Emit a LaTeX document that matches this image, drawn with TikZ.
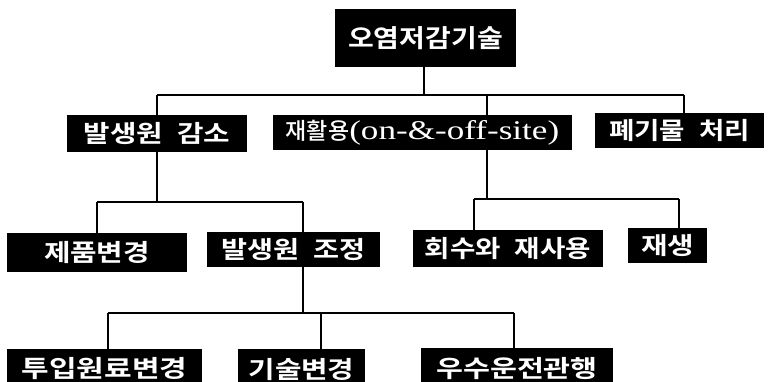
\documentclass[tikz,border=0pt]{standalone}
\usepackage{fontspec}
\usepackage{graphicx}
\newfontfamily\kofont{Noto Sans CJK KR Bold}
\newfontfamily\komedfont{Noto Sans CJK KR Medium}
\newfontfamily\latfont[FakeStretch=1.3]{Liberation Serif}
\newcommand{\wide}[2][1.2]{\scalebox{#1}[1]{#2}}
\newcommand{\gap}{\hspace{0.5em}}
\tikzset{
  box/.style={fill=black, text=white, inner sep=0pt, font=\kofont\fontsize{24}{24}\selectfont},
  conn/.style={line width=1.2pt, black}
}
\begin{document}
\begin{tikzpicture}[x=1pt,y=-1pt]
\useasboundingbox (0,0) rectangle (769,382);
\clip (0,0) rectangle (769,382);
% top
\node[box, minimum width=181pt, minimum height=58pt, font=\kofont\fontsize{25}{25}\selectfont] (top) at (425.5,38) {\wide[1.12]{오염저감기술}};
% level 1
\node[box, minimum width=180pt, minimum height=37pt] (a) at (157,133.5) {\wide{발생원\gap 감소}};
\node[box, minimum width=299pt, minimum height=35pt] (b) at (422.5,132.5) {{\komedfont\fontsize{23}{23}\selectfont 재활용}{\latfont\fontsize{27}{27}\selectfont(on-\&-off-site)}};
\node[box, minimum width=169pt, minimum height=35pt] (c) at (679.5,130.5) {\wide[1.15]{폐기물\gap 처리}};
% level 2
\node[box, minimum width=180pt, minimum height=39pt] (d) at (97,252.5) {\wide{제품변경}};
\node[box, minimum width=173pt, minimum height=35pt] (e) at (293.5,249.5) {\wide[1.18]{발생원\gap 조정}};
\node[box, minimum width=190pt, minimum height=37pt] (f) at (508,248.5) {\wide[1.15]{회수와\gap 재사용}};
\node[box, minimum width=79pt, minimum height=35pt] (g) at (667.5,245.5) {\wide{재생}};
% level 3
\node[box, minimum width=195pt, minimum height=40pt] (h) at (104.5,369) {\wide[1.25]{투입원료변경}};
\node[box, minimum width=127pt, minimum height=40pt] (i) at (301.5,369) {\wide[1.2]{기술변경}};
\node[box, minimum width=192pt, minimum height=41pt] (j) at (517,368.5) {\wide[1.22]{우수운전관행}};
% bus coordinates
\coordinate (t0) at (424,95);
\coordinate (t1) at (157,95);
\coordinate (t2) at (487,95);
\coordinate (t3) at (684,95);
\coordinate (a0) at (157,202);
\coordinate (a1) at (97,202);
\coordinate (a2) at (303,202);
\coordinate (b0) at (487,199);
\coordinate (b1) at (474,199);
\coordinate (b2) at (679,199);
\coordinate (e0) at (303,313);
\coordinate (e1) at (108,313);
\coordinate (e2) at (321,313);
\coordinate (e3) at (514,313);
% connectors
\draw[conn] (t0 |- top.south) -- (t0);
\draw[conn] (t1) -- (t3);
\draw[conn] (t1) -- (t1 |- a.north);
\draw[conn] (t2) -- (t2 |- b.north);
\draw[conn] (t3) -- (t3 |- c.north);
\draw[conn] (a0 |- a.south) -- (a0);
\draw[conn] (a1) -- (a2);
\draw[conn] (a1) -- (a1 |- d.north);
\draw[conn] (a2) -- (a2 |- e.north);
\draw[conn] (b0 |- b.south) -- (b0);
\draw[conn] (b1) -- (b2);
\draw[conn] (b1) -- (b1 |- f.north);
\draw[conn] (b2) -- (b2 |- g.north);
\draw[conn] (e0 |- e.south) -- (e0);
\draw[conn] (e1) -- (e3);
\draw[conn] (e1) -- (e1 |- h.north);
\draw[conn] (e2) -- (e2 |- i.north);
\draw[conn] (e3) -- (e3 |- j.north);
\end{tikzpicture}
\end{document}
